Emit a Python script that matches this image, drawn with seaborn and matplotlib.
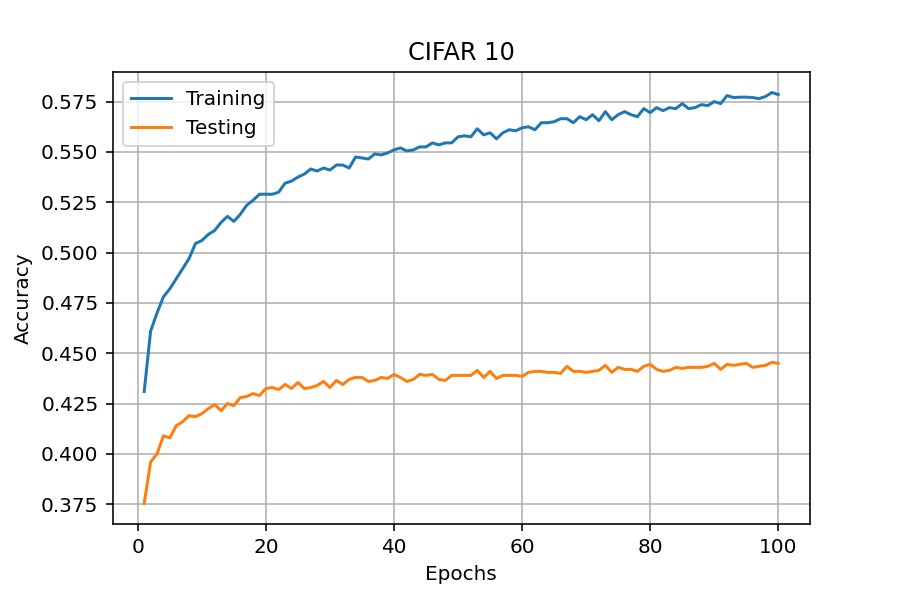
import numpy as np
import pandas as pd
import matplotlib
matplotlib.use("Agg")
import matplotlib.pyplot as plt
import seaborn as sns

# accuracy per epoch
epochs = list(range(1, 101))
train_acc = [
    0.431, 0.461, 0.470, 0.478, 0.482, 0.487, 0.492, 0.497, 0.5045, 0.506,
    0.509, 0.511, 0.515, 0.518, 0.5155, 0.519, 0.5235, 0.526, 0.529, 0.529,
    0.529, 0.530, 0.5345, 0.5355, 0.5375, 0.539, 0.5415, 0.5405, 0.542, 0.541,
    0.5435, 0.5435, 0.542, 0.5475, 0.547, 0.5465, 0.549, 0.5485, 0.5495, 0.551,
    0.552, 0.5505, 0.551, 0.5525, 0.5525, 0.5545, 0.5535, 0.5545, 0.5545, 0.5575,
    0.558, 0.5575, 0.5615, 0.5585, 0.5595, 0.5565, 0.5595, 0.561, 0.5605, 0.562,
    0.5625, 0.561, 0.5645, 0.5645, 0.565, 0.5665, 0.5665, 0.5645, 0.5675, 0.566,
    0.5685, 0.5655, 0.570, 0.566, 0.5685, 0.570, 0.5685, 0.5675, 0.5715, 0.5695,
    0.572, 0.5705, 0.572, 0.5715, 0.574, 0.5715, 0.572, 0.5735, 0.573, 0.575,
    0.574, 0.578, 0.577, 0.5772, 0.5772, 0.577, 0.5765, 0.5775, 0.5795, 0.5785,
]
test_acc = [
    0.3755, 0.396, 0.400, 0.409, 0.408, 0.414, 0.416, 0.419, 0.4185, 0.420,
    0.4225, 0.4245, 0.4215, 0.425, 0.424, 0.428, 0.4285, 0.430, 0.429, 0.4325,
    0.433, 0.432, 0.4345, 0.4325, 0.4355, 0.4325, 0.433, 0.434, 0.436, 0.433,
    0.4365, 0.4345, 0.437, 0.438, 0.438, 0.436, 0.4365, 0.438, 0.4375, 0.4395,
    0.438, 0.436, 0.437, 0.4395, 0.439, 0.4395, 0.437, 0.4365, 0.439, 0.439,
    0.439, 0.439, 0.4415, 0.438, 0.441, 0.4375, 0.439, 0.439, 0.439, 0.4385,
    0.4405, 0.441, 0.441, 0.4405, 0.4405, 0.440, 0.4435, 0.441, 0.441, 0.4405,
    0.441, 0.4415, 0.444, 0.4405, 0.443, 0.442, 0.442, 0.441, 0.4435, 0.4445,
    0.442, 0.441, 0.4415, 0.443, 0.4425, 0.443, 0.443, 0.443, 0.4435, 0.445,
    0.442, 0.4445, 0.444, 0.4445, 0.445, 0.443, 0.4435, 0.444, 0.4455, 0.445,
]

df = pd.DataFrame({
    "Epochs": epochs * 2,
    "Accuracy": train_acc + test_acc,
    "set": ["Training"] * 100 + ["Testing"] * 100,
})

# 6.25 x 4.1667 in at 144 dpi -> 900 x 600 px
fig = plt.figure(figsize=(6.25, 600 / 144), dpi=144)
ax = fig.add_subplot(111)
fig.subplots_adjust(left=0.125, right=0.9, top=0.88, bottom=0.127)

sns.lineplot(data=df, x="Epochs", y="Accuracy", hue="set",
             palette=["#1f77b4", "#ff7f0e"], linewidth=1.5, ax=ax)

ax.grid(True)
ax.set_yticks([0.375, 0.400, 0.425, 0.450, 0.475, 0.500, 0.525, 0.550, 0.575])
ax.set_yticklabels(["%.3f" % v for v in ax.get_yticks()])
ax.set_xticks([0, 20, 40, 60, 80, 100])
ax.set_xlabel("Epochs")
ax.set_ylabel("Accuracy")
ax.set_title("CIFAR 10")
ax.legend(loc="upper left", title=None)

plt.savefig("out.png", dpi=144)
